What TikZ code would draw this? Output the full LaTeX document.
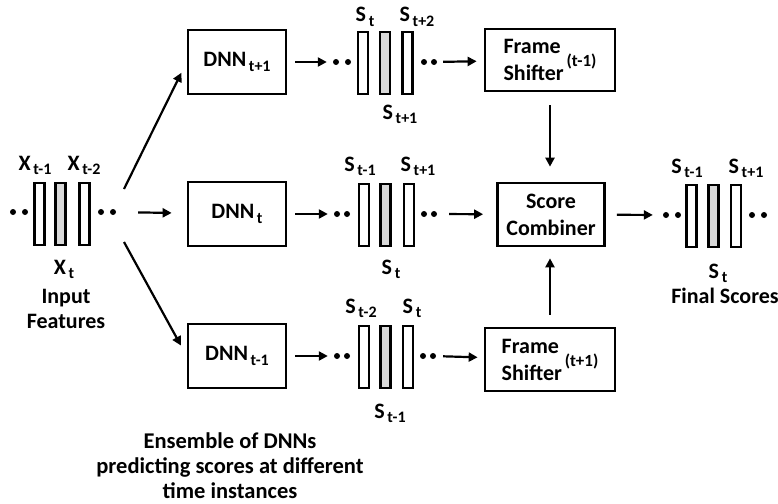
\documentclass[tikz,border=0pt]{standalone}
\usepackage{fontspec}
\setmainfont{Carlito}
\usetikzlibrary{arrows.meta}
\newcommand{\sbx}[1]{\raisebox{-0.45ex}{\fontsize{16}{16}\selectfont\,#1}}
\newcommand{\spx}[1]{\raisebox{14pt}{\fontsize{17}{17}\selectfont\,#1}}

\begin{document}
\begin{tikzpicture}[x=1pt, y=-1pt, font=\fontsize{22}{27}\selectfont\bfseries]
  \tikzstyle{block}=[draw, line width=2.7pt, inner sep=0pt, align=center]
  \tikzstyle{bar}=[draw, line width=2.2pt, minimum width=10pt, minimum height=62.5pt, inner sep=0pt]
  \tikzstyle{dot}=[circle, fill, minimum size=6pt, inner sep=0pt]
  \tikzstyle{arr}=[-{Triangle[length=9pt, width=9pt]}, line width=2.2pt]

\useasboundingbox (0,0) rectangle (778,503);

% input features
\node[bar] (x1) at (39.5, 214) {};
\node[bar, fill=black!15] (x2) at (60.5, 214) {};
\node[bar] (x3) at (84.5, 214) {};
\node[dot] (xl1) at (13, 212) {};
\node[dot] (xl2) at (25, 212) {};
\node[dot] (xr1) at (101, 212) {};
\node[dot] (xr2) at (113, 212) {};
\node[anchor=base] (lx1) at (35, 170) {X\sbx{t-1}};
\node[anchor=base] (lx3) at (84, 170) {X\sbx{t-2}};
\node[anchor=base] (lx2) at (64, 274) {X\sbx{t}};
\node[anchor=base] (lin) at (66, 303) {Input};
\node[anchor=base] (lft) at (66, 328) {Features};

\coordinate (fanU) at (124, 189);
\coordinate (fanD) at (124, 242);

% ensemble of DNNs
\node[block, minimum width=98pt, minimum height=64pt] (dnnA) at (237, 62) {DNN\sbx{t+1}};
\node[block, minimum width=98pt, minimum height=64pt] (dnnB) at (237, 214) {DNN\sbx{t}};
\node[block, minimum width=98pt, minimum height=64pt] (dnnC) at (237, 356) {DNN\sbx{t-1}};
\draw[arr, shorten >=12pt] (fanU) -- (dnnA.west);
\draw[arr, shorten <=22pt, shorten >=15pt] (xr2) -- (dnnB);
\draw[arr, shorten >=12pt] (fanD) -- (dnnC.west);

% scores of DNN t+1
\node[bar] (sa1) at (363, 63) {};
\node[bar, fill=black!15] (sa2) at (385, 63) {};
\node[bar] (sa3) at (407.5, 63) {};
\node[dot] (sal1) at (336, 62) {};
\node[dot] (sal2) at (348, 62) {};
\node[dot] (sar1) at (424, 62) {};
\node[dot] (sar2) at (434, 62) {};
\node[anchor=base] (lsa1) at (365, 22) {S\sbx{t}};
\node[anchor=base] (lsa3) at (417, 22) {S\sbx{t+2}};
\node[anchor=base] (lsa2) at (400, 119) {S\sbx{t+1}};
\draw[arr, shorten <=8pt, shorten >=6pt] (dnnA) -- (sal1);

% scores of DNN t
\node[bar] (sb1) at (364, 215) {};
\node[bar, fill=black!15] (sb2) at (385.5, 215) {};
\node[bar] (sb3) at (409, 215) {};
\node[dot] (sbl1) at (337, 214) {};
\node[dot] (sbl2) at (347, 214) {};
\node[dot] (sbr1) at (424, 214) {};
\node[dot] (sbr2) at (434, 214) {};
\node[anchor=base] (lsb1) at (360, 171) {S\sbx{t-1}};
\node[anchor=base] (lsb3) at (418, 171) {S\sbx{t+1}};
\node[anchor=base] (lsb2) at (391, 274) {S\sbx{t}};
\draw[arr, shorten <=8pt, shorten >=6pt] (dnnB) -- (sbl1);

% scores of DNN t-1
\node[bar] (sc1) at (364, 357) {};
\node[bar, fill=black!15] (sc2) at (385.5, 357) {};
\node[bar] (sc3) at (408, 357) {};
\node[dot] (scl1) at (337, 356) {};
\node[dot] (scl2) at (347, 356) {};
\node[dot] (scr1) at (423, 356) {};
\node[dot] (scr2) at (433, 356) {};
\node[anchor=base] (lsc1) at (361, 313) {S\sbx{t-2}};
\node[anchor=base] (lsc3) at (412, 313) {S\sbx{t}};
\node[anchor=base] (lsc2) at (390, 418) {S\sbx{t-1}};
\draw[arr, shorten <=8pt, shorten >=6pt] (dnnC) -- (scl1);

% shifting and combining
\node[block, minimum width=130pt, minimum height=62pt, align=left] (frmA) at (550, 60) {Frame\\Shifter\spx{(t-1)}};
\node[block, minimum width=107pt, minimum height=63pt] (comb) at (551, 214.5) {Score\\Combiner};
\node[block, minimum width=130pt, minimum height=63pt, align=left] (frmB) at (550, 359.5) {Frame\\Shifter\spx{(t+1)}};
\draw[arr, shorten <=6pt, shorten >=7pt] (sar2) -- (frmA);
\draw[arr, shorten <=12pt, shorten >=13pt] (sbr2) -- (comb);
\draw[arr, shorten <=7pt, shorten >=6pt] (scr2) -- (frmB);
\draw[arr, shorten <=13pt, shorten >=15pt] (frmA.south) -- (frmA.south |- comb.north);
\draw[arr, shorten <=12pt, shorten >=11pt] (frmB.north) -- (frmB.north |- comb.south);

% final scores
\node[bar] (f1) at (691.5, 216) {};
\node[bar, fill=black!15] (f2) at (713.5, 216) {};
\node[bar] (f3) at (736, 216) {};
\node[dot] (fl1) at (666, 215) {};
\node[dot] (fl2) at (678, 215) {};
\node[dot] (fr1) at (752, 215) {};
\node[dot] (fr2) at (764, 215) {};
\node[anchor=base] (lf1) at (687, 173) {S\sbx{t-1}};
\node[anchor=base] (lf3) at (746, 173) {S\sbx{t+1}};
\node[anchor=base] (lf2) at (718, 278) {S\sbx{t}};
\node[anchor=base] (lfs) at (725, 303) {Final Scores};
\draw[arr, shorten <=11pt, shorten >=10pt] (comb) -- (fl1);

\node[align=center, font=\fontsize{22.5}{25}\selectfont\bfseries] (note) at (230, 466) {Ensemble of DNNs\\predicting scores at different\\time instances};

\end{tikzpicture}
\end{document}
